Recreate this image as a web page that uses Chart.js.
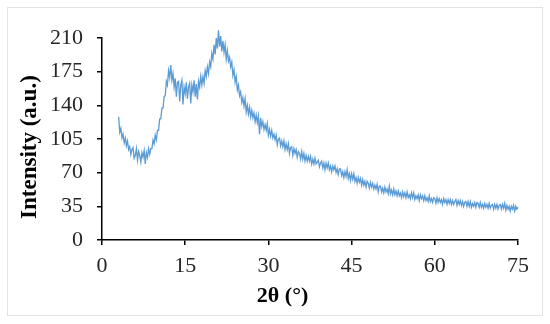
<!DOCTYPE html>
<html>
<head>
<meta charset="utf-8">
<script src="https://cdn.jsdelivr.net/npm/chart.js@4/dist/chart.umd.min.js"></script>
<style>
  html, body { margin: 0; padding: 0; background: #fff; }
  #wrap { width: 550px; height: 324px; }
</style>
</head>
<body>
<div id="wrap"><canvas id="xrd"></canvas></div>
<script>
// 2θ sampled every 0.2° from 3° to 75°
const START = 3;
const STEP = 0.2;

// intensity (a.u.), one row per 2°
const intensity = [
  128, 112, 116, 106, 110, 101, 106, 98, 103, 94,
  97, 89, 94, 96, 85, 88, 95, 83, 92, 88,
  81, 91, 86, 93, 79, 91, 86, 95, 89, 95,
  95, 104, 100, 109, 104, 114, 114, 126, 126, 137,
  137, 149, 150, 165, 161, 176, 169, 182, 166, 173,
  159, 168, 149, 164, 165, 144, 161, 166, 141, 159,
  152, 164, 147, 159, 163, 142, 161, 154, 166, 149,
  162, 146, 165, 159, 170, 161, 170, 163, 176, 170,
  180, 173, 185, 180, 194, 188, 203, 193, 210, 199,
  218, 201, 212, 196, 207, 195, 203, 188, 197, 186,
  190, 180, 185, 171, 177, 164, 170, 156, 161, 150,
  154, 143, 148, 139, 147, 133, 140, 131, 138, 128,
  135, 127, 132, 123, 130, 122, 129, 110, 127, 118,
  123, 115, 120, 114, 121, 109, 115, 108, 114, 106,
  110, 104, 109, 99, 105, 106, 98, 103, 97, 103,
  94, 100, 94, 100, 90, 96, 97, 88, 95, 90,
  94, 86, 92, 90, 84, 92, 84, 90, 82, 88,
  82, 87, 82, 87, 79, 84, 79, 85, 79, 81,
  83, 76, 80, 82, 75, 80, 73, 80, 75, 80,
  73, 77, 71, 77, 73, 77, 70, 74, 68, 74,
  74, 67, 71, 65, 71, 66, 73, 64, 69, 62,
  69, 63, 69, 61, 65, 59, 65, 60, 64, 57,
  63, 57, 61, 55, 61, 59, 54, 60, 55, 59,
  53, 57, 53, 58, 50, 56, 56, 50, 54, 49,
  55, 50, 53, 48, 56, 48, 52, 47, 53, 47,
  51, 46, 51, 46, 49, 44, 50, 45, 49, 44,
  50, 44, 47, 43, 49, 44, 49, 42, 46, 43,
  47, 41, 47, 43, 46, 41, 46, 41, 44, 40,
  46, 40, 43, 39, 44, 43, 38, 44, 39, 43,
  39, 42, 37, 43, 39, 42, 37, 42, 38, 42,
  37, 41, 37, 40, 42, 36, 41, 37, 41, 36,
  40, 35, 39, 40, 35, 40, 35, 40, 34, 38,
  35, 39, 34, 39, 38, 34, 39, 34, 37, 33,
  38, 34, 37, 33, 38, 33, 36, 37, 32, 37,
  33, 37, 32, 36, 37, 32, 37, 33, 38, 31,
  36, 32, 35, 30, 35, 32, 36, 30, 35, 32,
  34
];

const xTicks = [0, 15, 30, 45, 60, 75];
const yTicks = [0, 35, 70, 105, 140, 175, 210];
const xTitle = '2θ (°)';
const yTitle = 'Intensity (a.u.)';

const points = intensity.map((v, i) => ({ x: +(START + i * STEP).toFixed(1), y: v }));

const tickFont = { family: 'Liberation Serif', size: 22 };
const axisGrid = {
  drawOnChartArea: false,
  drawTicks: true,
  tickLength: 5,
  color: '#000',
  lineWidth: 1.5,
};

// light frame round the whole figure
const framePlugin = {
  id: 'frame',
  beforeDraw(chart) {
    const { ctx, width, height } = chart;
    ctx.save();
    ctx.strokeStyle = '#e3e3e3';
    ctx.lineWidth = 1;
    ctx.strokeRect(7.5, 7.5, width - 15, height - 16);
    ctx.restore();
  },
};

// excel places both axis titles a little off the plot centre
const titlesPlugin = {
  id: 'titles',
  afterDraw(chart) {
    const { ctx, chartArea } = chart;
    ctx.save();
    ctx.font = 'bold 22px "Liberation Serif"';
    ctx.fillStyle = '#000';
    ctx.textAlign = 'center';
    ctx.textBaseline = 'middle';
    ctx.fillText(xTitle, chartArea.left + chartArea.width * 0.434, chartArea.bottom + 56);
    ctx.translate(30, chartArea.top + chartArea.height * 0.54);
    ctx.rotate(-Math.PI / 2);
    ctx.font = 'bold 23px "Liberation Serif"';
    ctx.fillText(yTitle, 0, 0);
    ctx.restore();
  },
};

new Chart(document.getElementById('xrd'), {
  type: 'line',
  data: {
    datasets: [{
      data: points,
      borderColor: '#5B9BD5',
      borderWidth: 1.3,
      pointRadius: 0,
      tension: 0,
      fill: false,
      clip: false,
    }],
  },
  plugins: [framePlugin, titlesPlugin],
  options: {
    responsive: true,
    maintainAspectRatio: false,
    animation: false,
    layout: { padding: { top: 38, right: 32, left: 0, bottom: 0 } },
    plugins: { legend: { display: false }, tooltip: { enabled: false } },
    scales: {
      x: {
        type: 'linear',
        min: 0,
        max: 75,
        afterBuildTicks: (axis) => { axis.ticks = xTicks.map((v) => ({ value: v })); },
        grid: axisGrid,
        border: { display: true, color: '#000', width: 1.5 },
        ticks: { font: tickFont, color: '#262626', padding: 8, maxRotation: 0 },
        afterFit: (axis) => { axis.height = 84; },
      },
      y: {
        min: 0,
        max: 210,
        afterBuildTicks: (axis) => { axis.ticks = yTicks.map((v) => ({ value: v })); },
        grid: axisGrid,
        border: { display: true, color: '#000', width: 1.5 },
        ticks: { font: tickFont, color: '#262626', padding: 14 },
        afterFit: (axis) => { axis.width = 102; },
      },
    },
  },
});
</script>
</body>
</html>
